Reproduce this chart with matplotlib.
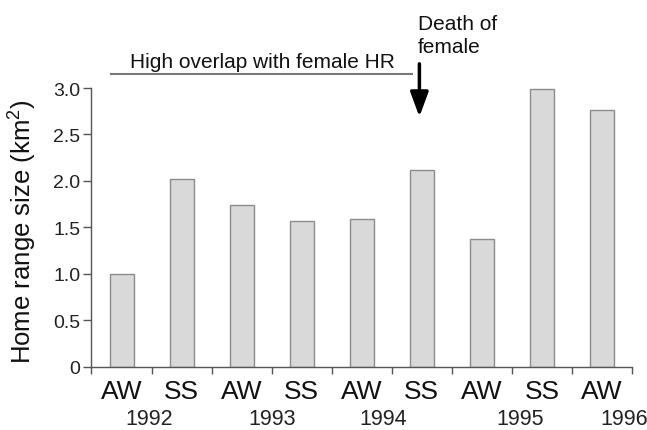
import matplotlib
matplotlib.use("Agg")
import matplotlib.pyplot as plt
from matplotlib.ticker import FixedLocator

plt.rcParams['font.family'] = ['Liberation Sans', 'DejaVu Sans']
plt.rcParams['mathtext.fontset'] = 'custom'
plt.rcParams['mathtext.rm'] = 'Liberation Sans'

seasons = ['AW', 'SS', 'AW', 'SS', 'AW', 'SS', 'AW', 'SS', 'AW']
values = [1.00, 2.02, 1.74, 1.57, 1.59, 2.12, 1.38, 2.99, 2.76]
years = ['1992', '1993', '1994', '1995', '1996']
year_pos = [0.46, 2.51, 4.35, 6.63, 8.37]
yticks = [0, 0.5, 1.0, 1.5, 2.0, 2.5, 3.0]
ytick_labels = ['0', '0.5', '1.0', '1.5', '2.0', '2.5', '3.0']

fig = plt.figure(figsize=(6.47, 4.31), dpi=100)
ax = fig.add_axes([0.1414, 0.1462, 0.8354, 0.6473])

x = list(range(len(values)))
ax.bar(x, values, width=0.4, color='#d9d9d9', edgecolor='#8c8c8c', linewidth=1.0)

ax.set_xlim(-0.5, 8.5)
ax.set_ylim(0, 3.0)
ax.set_yticks(yticks)
ax.set_yticklabels(ytick_labels, fontsize=14, color='#222222')
ax.set_xticks(x)
ax.set_xticklabels(seasons, fontsize=19, color='#111111')
ax.tick_params(axis='x', which='major', length=0, pad=9)
ax.xaxis.set_minor_locator(FixedLocator([i - 0.5 for i in range(len(values) + 1)]))
ax.tick_params(axis='x', which='minor', length=5, width=1, color='#555555', direction='out')
ax.tick_params(axis='y', length=6, width=1, color='#555555', pad=2)

for s in ['top', 'right']:
    ax.spines[s].set_visible(False)
for s in ['left', 'bottom']:
    ax.spines[s].set_color('#555555')
    ax.spines[s].set_linewidth(1.0)

ax.set_ylabel('Home range size (km$^{2}$)', fontsize=18.5, color='#111111')
ax.yaxis.set_label_coords(-0.099, 0.49)

for yr, p in zip(years, year_pos):
    ax.annotate(yr, xy=(p, 0.5 / 431), xycoords=('data', 'figure fraction'),
                fontsize=15.5, ha='center', va='bottom', color='#222222',
                annotation_clip=False)

# annotation line and text
ax.plot([-0.18, 4.83], [3.15, 3.15], color='#777777', lw=1.5, clip_on=False)
ax.text(2.35, 3.225, 'High overlap with female HR', fontsize=15, ha='center', va='baseline',
        clip_on=False, color='#111111')
ax.annotate('', xy=(4.96, 2.69), xytext=(4.96, 3.26), xycoords='data',
            arrowprops=dict(arrowstyle='-|>,head_length=1.5,head_width=0.55', color='black', lw=2.5,
                            shrinkA=0, shrinkB=0), annotation_clip=False)
ax.text(4.94, 3.634, 'Death of', fontsize=15, ha='left', va='baseline', clip_on=False, color='#111111')
ax.text(4.94, 3.384, 'female', fontsize=15, ha='left', va='baseline', clip_on=False, color='#111111')

fig.savefig('out.png', dpi=100)
